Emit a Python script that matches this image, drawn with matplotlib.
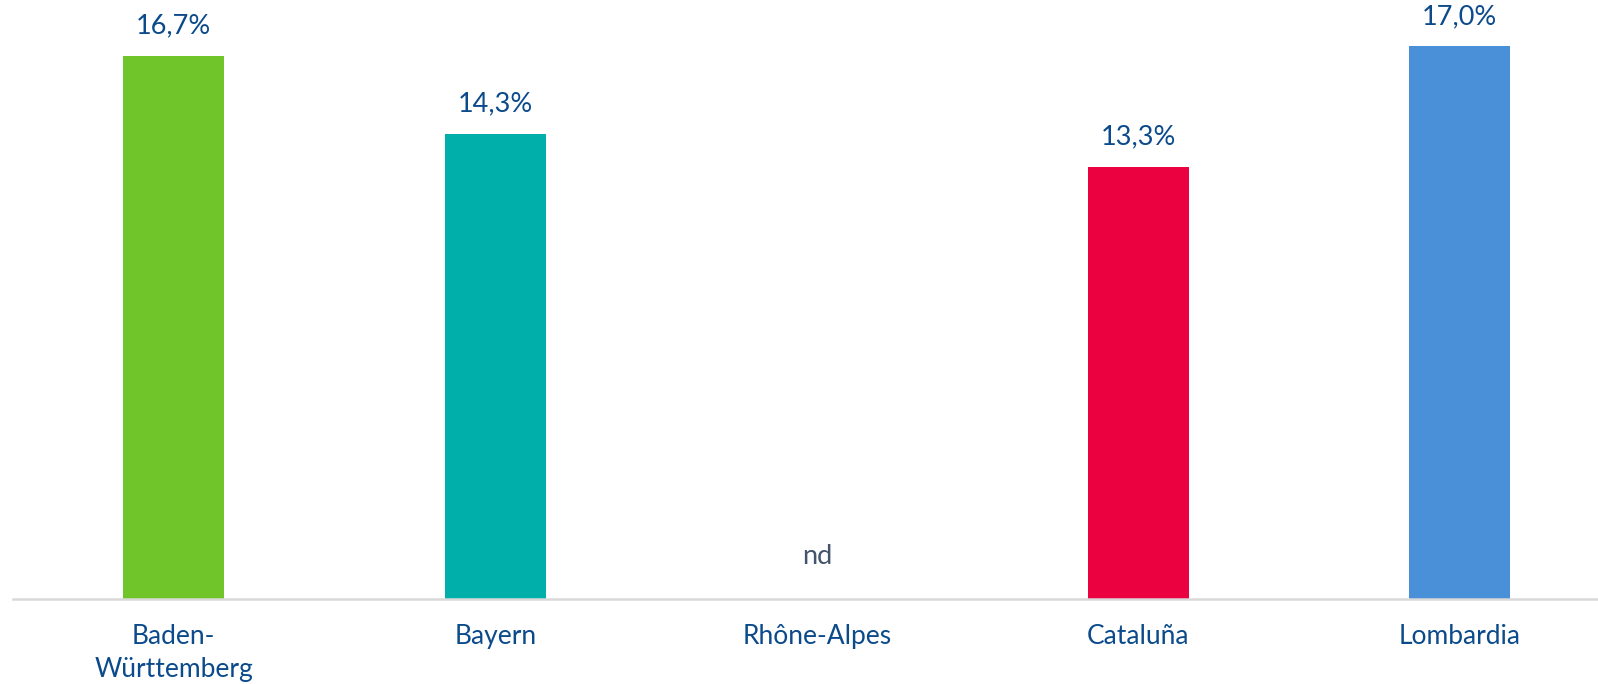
import matplotlib.pyplot as plt

plt.rcParams['font.family'] = ['Lato', 'DejaVu Sans']

regions = ['Baden-\nWürttemberg', 'Bayern', 'Rhône-Alpes', 'Cataluña', 'Lombardia']
values = [16.7, 14.3, None, 13.3, 17.0]
labels = ['16,7%', '14,3%', 'nd', '13,3%', '17,0%']
colors = ['#70C52B', '#00AFAA', '#FFFFFF', '#EB0040', '#4A90D9']

text_blue = '#0B4A8B'
nd_grey = '#44546A'

fig = plt.figure(figsize=(15.98, 6.84), dpi=100)
ax = fig.add_axes([13 / 1598, 1 - 599 / 684, 1 - 13 / 1598, 599 / 684])

x = list(range(len(regions)))
heights = [v if v is not None else 0 for v in values]
bars = ax.bar(x, heights, width=0.315, color=colors)

for i, (h, lab) in enumerate(zip(heights, labels)):
    if values[i] is None:
        ax.annotate(lab, (i, 0), xytext=(0, 43), textcoords='offset pixels',
                    ha='center', va='center', fontsize=19.5, color=nd_grey)
    else:
        ax.annotate(lab, (i, h), xytext=(0, 30), textcoords='offset pixels',
                    ha='center', va='center', fontsize=19.5, color=text_blue)

ax.set_xlim(-0.5, 4.43)
ax.set_ylim(0.0, 18.43)
ax.set_xticks(x)
ax.set_xticklabels(regions, fontsize=19, color=text_blue, linespacing=1.42, va='top')
ax.tick_params(axis='x', length=0, pad=18)
ax.set_yticks([])
for s in ['top', 'right', 'left']:
    ax.spines[s].set_visible(False)
ax.spines['bottom'].set_color('#D9D9D9')
ax.spines['bottom'].set_linewidth(1.8)

fig.savefig('out.png', dpi=100)
